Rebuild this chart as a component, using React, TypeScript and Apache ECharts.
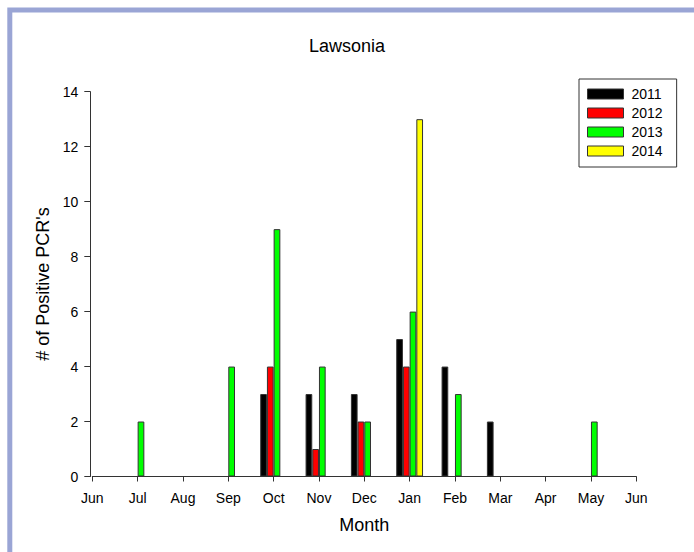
import React, { useEffect, useRef } from "react";
import * as echarts from "echarts";

const monthLabels = ["Jun", "Jul", "Aug", "Sep", "Oct", "Nov", "Dec", "Jan", "Feb", "Mar", "Apr", "May", "Jun"];
const seriesNames = ["2011", "2012", "2013", "2014"];
const values2011 = [null, null, null, null, 3, 3, 3, 5, 4, 2, null, null, null];
const values2012 = [null, null, null, null, 4, 1, 2, 4, null, null, null, null, null];
const values2013 = [null, 2, null, 4, 9, 4, 2, 6, 3, null, null, 2, null];
const values2014 = [null, null, null, null, null, null, null, 13, null, null, null, null, null];
const yTicks = { min: 0, max: 14, interval: 2 };

const colors = ["#000000", "#ff0000", "#00ff00", "#ffff00"];
const FONT = "Liberation Sans, Arial, sans-serif";

export default function App() {
  const ref = useRef<HTMLDivElement>(null);
  useEffect(() => {
    if (!ref.current) return;
    const chart = echarts.init(ref.current, null, { renderer: "svg" });
    const allValues = [values2011, values2012, values2013, values2014];
    chart.setOption({
      animation: false,
      backgroundColor: "#ffffff",
      title: {
        text: "Lawsonia",
        left: "center",
        top: 37,
        padding: 0,
        textStyle: { fontFamily: FONT, fontSize: 18, fontWeight: "normal", color: "#000" },
      },
      graphic: [
        {
          type: "rect",
          shape: { x: 9.8, y: 10, width: 800, height: 700 },
          style: { fill: "none", stroke: "#9aa5d5", lineWidth: 5 },
          silent: true,
        },
      ],
      legend: {
        orient: "vertical",
        left: 579,
        top: 79,
        padding: [8, 14, 9, 8],
        itemWidth: 36,
        itemHeight: 10,
        itemGap: 5,
        borderColor: "#333",
        borderWidth: 1,
        icon: "rect",
        itemStyle: { borderColor: "#333", borderWidth: 1 },
        textStyle: { fontFamily: FONT, fontSize: 14, color: "#000", padding: [0, 0, 0, 3] },
        data: seriesNames,
      },
      grid: { left: 92.3, right: 57.7, top: 91.7, bottom: 75.5, containLabel: false },
      xAxis: {
        type: "category",
        data: monthLabels,
        boundaryGap: false,
        name: "Month",
        nameLocation: "middle",
        nameGap: 39,
        nameTextStyle: { fontFamily: FONT, fontSize: 18, color: "#000" },
        axisLine: { lineStyle: { color: "#333", width: 1 } },
        axisTick: { show: true, length: 5, inside: false, lineStyle: { color: "#333" } },
        axisLabel: { interval: 0, margin: 14, fontFamily: FONT, fontSize: 14, color: "#000" },
        splitLine: { show: false },
      },
      yAxis: {
        type: "value",
        min: yTicks.min,
        max: yTicks.max,
        interval: yTicks.interval,
        offset: 2,
        name: "# of Positive PCR's",
        nameLocation: "middle",
        nameGap: 36,
        nameTextStyle: { fontFamily: FONT, fontSize: 18, color: "#000" },
        axisLine: { show: true, lineStyle: { color: "#333", width: 1 } },
        axisTick: { show: true, length: 6, inside: false, lineStyle: { color: "#333" } },
        axisLabel: { margin: 12, fontFamily: FONT, fontSize: 14, color: "#000" },
        splitLine: { show: false },
      },
      series: seriesNames.map((name, i) => ({
        name,
        type: "bar",
        data: allValues[i],
        barWidth: 6.7,
        barGap: "0%",
        itemStyle: { color: colors[i], borderColor: "#333", borderWidth: 1 },
      })),
    });
    return () => chart.dispose();
  }, []);
  return (
    <div
      ref={ref}
      style={{ position: "absolute", left: 0, top: 0, width: 694, height: 552 }}
    />
  );
}
